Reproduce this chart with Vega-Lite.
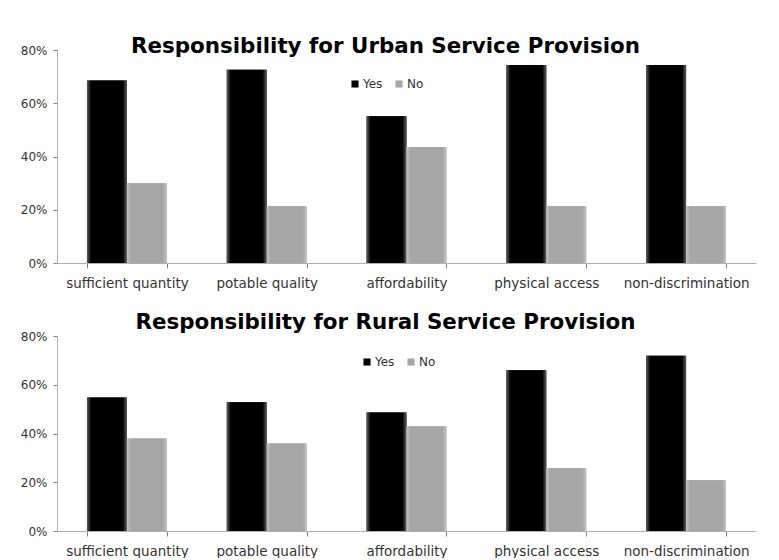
{
  "$schema": "https://vega.github.io/schema/vega-lite/v6.json",
  "padding": {"left": 20, "top": 35, "right": 10, "bottom": 0},
  "background": "white",
  "spacing": 21,
  "resolve": {"scale": {"color": "independent"}, "legend": {"color": "independent"}},
  "config": {
    "view": {"stroke": null},
    "font": "DejaVu Sans",
    "axis": {"labelColor": "#333333", "domainColor": "#b0b0b0", "tickColor": "#808080", "grid": false, "title": null, "labelFontSize": 12},
    "title": {"color": "#000000", "fontWeight": "bold", "fontSize": 21.4, "anchor": "middle"},
    "legend": {"labelFontSize": 12, "labelColor": "#333333", "symbolType": "square", "symbolSize": 50, "symbolStrokeWidth": 0, "columnPadding": 10, "labelOffset": 2}
  },
  "datasets": {
    "urban": [
      {"category": "sufficient quantity", "answer": "Yes", "pct": 0.685},
      {"category": "sufficient quantity", "answer": "No", "pct": 0.30},
      {"category": "potable quality", "answer": "Yes", "pct": 0.726},
      {"category": "potable quality", "answer": "No", "pct": 0.213},
      {"category": "affordability", "answer": "Yes", "pct": 0.551},
      {"category": "affordability", "answer": "No", "pct": 0.436},
      {"category": "physical access", "answer": "Yes", "pct": 0.744},
      {"category": "physical access", "answer": "No", "pct": 0.213},
      {"category": "non-discrimination", "answer": "Yes", "pct": 0.744},
      {"category": "non-discrimination", "answer": "No", "pct": 0.213}
    ],
    "rural": [
      {"category": "sufficient quantity", "answer": "Yes", "pct": 0.548},
      {"category": "sufficient quantity", "answer": "No", "pct": 0.38},
      {"category": "potable quality", "answer": "Yes", "pct": 0.528},
      {"category": "potable quality", "answer": "No", "pct": 0.359},
      {"category": "affordability", "answer": "Yes", "pct": 0.486},
      {"category": "affordability", "answer": "No", "pct": 0.43},
      {"category": "physical access", "answer": "Yes", "pct": 0.66},
      {"category": "physical access", "answer": "No", "pct": 0.258},
      {"category": "non-discrimination", "answer": "Yes", "pct": 0.719},
      {"category": "non-discrimination", "answer": "No", "pct": 0.208}
    ]
  },
  "vconcat": [
    {
      "width": 699,
      "height": 213,
      "title": {"text": "Responsibility for Urban Service Provision", "offset": -13, "dx": -21},
      "data": {"name": "urban"},
      "encoding": {
        "x": {"field": "category", "type": "nominal", "sort": ["sufficient quantity", "potable quality", "affordability", "physical access", "non-discrimination"], "scale": {"paddingInner": 0.4286, "paddingOuter": 0.2143}, "axis": {"labelAngle": 0, "tickBand": "extent", "tickSize": 5, "labelPadding": 8, "labelFontSize": 13.5}},
        "xOffset": {"field": "answer", "type": "nominal", "sort": ["Yes", "No"], "scale": {"domain": ["Yes", "No"]}},
        "y": {"field": "pct", "type": "quantitative", "scale": {"domain": [0, 0.8]}, "axis": {"format": ".0%", "values": [0, 0.2, 0.4, 0.6, 0.8], "tickSize": 4, "labelPadding": 6}}
      },
      "layer": [
        {
          "mark": {"type": "bar"},
          "encoding": {"color": {"field": "answer", "type": "nominal", "sort": ["Yes", "No"], "scale": {"domain": ["Yes", "No"], "range": ["#000000", "#a6a6a6"]}, "legend": {"title": null, "orient": "none", "direction": "horizontal", "legendX": 292, "legendY": 28}}}
        },
        {
          "transform": [{"filter": "datum.answer === 'Yes'"}],
          "mark": {"type": "bar", "color": {"gradient": "linear", "x1": 0, "x2": 1, "y1": 0, "y2": 0, "stops": [{"offset": 0, "color": "#606060"}, {"offset": 0.1, "color": "#000000"}, {"offset": 0.9, "color": "#000000"}, {"offset": 1, "color": "#606060"}]}}
        },
        {
          "transform": [{"filter": "datum.answer === 'No'"}],
          "mark": {"type": "bar", "color": {"gradient": "linear", "x1": 0, "x2": 1, "y1": 0, "y2": 0, "stops": [{"offset": 0, "color": "#c4c4c4"}, {"offset": 0.1, "color": "#a6a6a6"}, {"offset": 0.9, "color": "#a6a6a6"}, {"offset": 1, "color": "#c4c4c4"}]}}
        }
      ]
    },
    {
      "width": 699,
      "height": 195,
      "title": {"text": "Responsibility for Rural Service Provision", "offset": -3, "dx": -21},
      "data": {"name": "rural"},
      "encoding": {
        "x": {"field": "category", "type": "nominal", "sort": ["sufficient quantity", "potable quality", "affordability", "physical access", "non-discrimination"], "scale": {"paddingInner": 0.4286, "paddingOuter": 0.2143}, "axis": {"labelAngle": 0, "tickBand": "extent", "tickSize": 5, "labelPadding": 8, "labelFontSize": 13.5}},
        "xOffset": {"field": "answer", "type": "nominal", "sort": ["Yes", "No"], "scale": {"domain": ["Yes", "No"]}},
        "y": {"field": "pct", "type": "quantitative", "scale": {"domain": [0, 0.8]}, "axis": {"format": ".0%", "values": [0, 0.2, 0.4, 0.6, 0.8], "tickSize": 4, "labelPadding": 6}}
      },
      "layer": [
        {
          "mark": {"type": "bar"},
          "encoding": {"color": {"field": "answer", "type": "nominal", "sort": ["Yes", "No"], "scale": {"domain": ["Yes", "No"], "range": ["#000000", "#a6a6a6"]}, "legend": {"title": null, "orient": "none", "direction": "horizontal", "legendX": 304, "legendY": 20}}}
        },
        {
          "transform": [{"filter": "datum.answer === 'Yes'"}],
          "mark": {"type": "bar", "color": {"gradient": "linear", "x1": 0, "x2": 1, "y1": 0, "y2": 0, "stops": [{"offset": 0, "color": "#606060"}, {"offset": 0.1, "color": "#000000"}, {"offset": 0.9, "color": "#000000"}, {"offset": 1, "color": "#606060"}]}}
        },
        {
          "transform": [{"filter": "datum.answer === 'No'"}],
          "mark": {"type": "bar", "color": {"gradient": "linear", "x1": 0, "x2": 1, "y1": 0, "y2": 0, "stops": [{"offset": 0, "color": "#c4c4c4"}, {"offset": 0.1, "color": "#a6a6a6"}, {"offset": 0.9, "color": "#a6a6a6"}, {"offset": 1, "color": "#c4c4c4"}]}}
        }
      ]
    }
  ]
}
